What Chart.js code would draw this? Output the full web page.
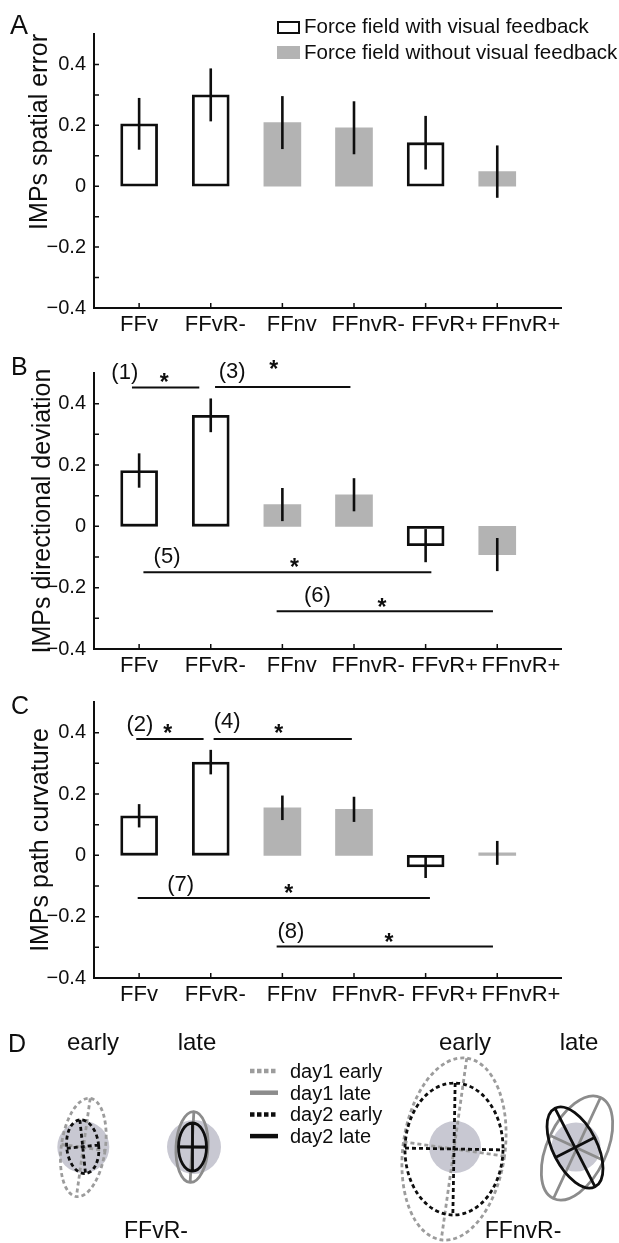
<!DOCTYPE html>
<html>
<head>
<meta charset="utf-8">
<script src="https://cdn.jsdelivr.net/npm/chart.js@4.4.1/dist/chart.umd.min.js"></script>
<style>
  body { margin: 0; background: #fff; font-family: "Liberation Sans", Arial, sans-serif; color: #0e0e0e; }
  #wrap { position: relative; width: 619px; height: 1243px; overflow: hidden; }
  canvas { position: absolute; left: 0; }
  .t { position: absolute; white-space: nowrap; line-height: 1; }
  .c { transform: translateX(-50%); }
  .box { position: absolute; box-sizing: border-box; }
</style>
</head>
<body>
<div id="wrap">
  <canvas id="chartA" width="619" height="345" style="top:0"></canvas>
  <canvas id="chartB" width="619" height="350" style="top:340px"></canvas>
  <canvas id="chartC" width="619" height="345" style="top:680px"></canvas>
  <canvas id="chartD" width="619" height="223" style="top:1020px"></canvas>

  <div class="t" style="left:10px;top:12px;font-size:27px">A</div>
  <div class="t" style="left:11px;top:354px;font-size:25px">B</div>
  <div class="t" style="left:11px;top:693px;font-size:25px">C</div>
  <div class="t" style="left:8px;top:1031px;font-size:25px">D</div>

  <div id="legendA"></div>

  <div class="t c" style="left:93px;top:1030px;font-size:24px">early</div>
  <div class="t c" style="left:197px;top:1030px;font-size:24px">late</div>
  <div class="t c" style="left:465px;top:1030px;font-size:24px">early</div>
  <div class="t c" style="left:579px;top:1030px;font-size:24px">late</div>
  <div class="t c" style="left:156px;top:1219px;font-size:23px">FFvR-</div>
  <div class="t c" style="left:523px;top:1219px;font-size:23px">FFnvR-</div>
</div>
<script>
// ---- data ----
const categories = ['FFv', 'FFvR-', 'FFnv', 'FFnvR-', 'FFvR+', 'FFnvR+'];
const withVisual = [true, true, false, false, true, false];
const legendLabels = ['Force field with visual feedback', 'Force field without visual feedback'];

const spatialError = [0.205, 0.300, 0.209, 0.192, 0.143, 0.048];
const spatialErrorSE = [0.085, 0.087, 0.087, 0.087, 0.088, 0.086];
const directionalDev = [0.182, 0.362, 0.071, 0.103, -0.063, -0.092];
const directionalDevSE = [0.056, 0.055, 0.054, 0.054, 0.054, 0.054];
const pathCurvature = [0.129, 0.304, 0.155, 0.150, -0.038, 0.008];
const pathCurvatureSE = [0.038, 0.040, 0.040, 0.041, 0.036, 0.039];

const yTicks = [-0.4, -0.2, 0, 0.2, 0.4];
const yMinorTicks = [-0.3, -0.1, 0.1, 0.3];

// significance bars: x in category index units, y in data units
const bracketsB = [
  { text: '(1)', from: -0.1, to: 0.84, y: 0.453, textX: -0.2, textY: 0.500, starX: 0.35, starY: 0.489 },
  { text: '(3)', from: 1.06, to: 2.95, y: 0.454, textX: 1.30, textY: 0.502, starX: 1.88, starY: 0.532 },
  { text: '(5)', from: 0.06, to: 4.08, y: -0.150, textX: 0.39, textY: -0.101, starX: 2.17, starY: -0.116 },
  { text: '(6)', from: 1.92, to: 4.94, y: -0.277, textX: 2.49, textY: -0.228, starX: 3.39, starY: -0.244 }
];
const bracketsC = [
  { text: '(2)', from: -0.04, to: 0.90, y: 0.379, textX: 0.01, textY: 0.426, starX: 0.40, starY: 0.417 },
  { text: '(4)', from: 1.04, to: 2.97, y: 0.379, textX: 1.23, textY: 0.434, starX: 1.95, starY: 0.417 },
  { text: '(7)', from: -0.02, to: 4.06, y: -0.139, textX: 0.58, textY: -0.098, starX: 2.09, starY: -0.104 },
  { text: '(8)', from: 1.92, to: 4.94, y: -0.297, textX: 2.12, textY: -0.249, starX: 3.49, starY: -0.265 }
];

// panel D ellipses: [centre x, centre y, semi-major, semi-minor, tilt deg]
const dayLabels = ['day1 early', 'day1 late', 'day2 early', 'day2 late'];
const day1Early = [[8.33, -0.05, 4.96, 2.2, 8], [45.4, -0.2, 9.17, 5.1, 8]];
const day1Late = [[19.2, 0, 3.55, 1.6, 3], [57.7, -0.1, 5.57, 2.96, 25]];
const day2Early = [[8.27, 0.03, 2.7, 1.6, -6], [45.4, -0.2, 6.6, 4.9, 1]];
const day2Late = [[19.25, 0, 2.4, 1.4, 0], [57.5, -0.05, 4.4, 2.2, -27]];
const targetDisks = [[8.33, 0, 2.6], [19.4, 0, 2.7], [45.5, 0, 2.6], [57.6, 0, 2.45]];

const family = '"Liberation Sans", Arial, sans-serif';
const ink = '#0e0e0e';
const barGray = '#b3b3b3';
const dayStyles = [
  { color: '#9c9c9c', dash: [4, 3] },
  { color: '#8c8c8c', dash: [] },
  { color: ink, dash: [4, 3] },
  { color: ink, dash: [] }
];

// legend of panel A
document.getElementById('legendA').innerHTML =
  '<div class="box" style="left:277px;top:21px;width:23px;height:13px;border:2px solid ' + ink + '"></div>' +
  '<div class="t" style="left:304px;top:16px;font-size:20.5px">' + legendLabels[0] + '</div>' +
  '<div class="box" style="left:277px;top:46px;width:23px;height:13px;background:' + barGray + '"></div>' +
  '<div class="t" style="left:304px;top:42px;font-size:20.5px">' + legendLabels[1] + '</div>';

const inwardTicks = {
  id: 'inwardTicks',
  afterDraw(chart) {
    const { ctx, chartArea, scales: { x, y } } = chart;
    ctx.save();
    ctx.strokeStyle = ink;
    ctx.lineWidth = 1.5;
    ctx.beginPath();
    yTicks.concat(yMinorTicks).forEach(v => {
      const py = y.getPixelForValue(v);
      ctx.moveTo(chartArea.left, py);
      ctx.lineTo(chartArea.left + 5, py);
    });
    categories.forEach((c, i) => {
      const px = x.getPixelForValue(i);
      ctx.moveTo(px, chartArea.bottom);
      ctx.lineTo(px, chartArea.bottom - 5);
    });
    ctx.stroke();
    ctx.restore();
  }
};

const errorBars = {
  id: 'errorBars',
  afterDatasetsDraw(chart) {
    const { ctx, scales: { y } } = chart;
    ctx.save();
    ctx.strokeStyle = ink;
    ctx.lineWidth = 2.6;
    chart.data.datasets.forEach((ds, di) => {
      chart.getDatasetMeta(di).data.forEach((bar, j) => {
        const p = ds.data[j];
        ctx.beginPath();
        ctx.moveTo(bar.x, y.getPixelForValue(p.y + p.err));
        ctx.lineTo(bar.x, y.getPixelForValue(p.y - p.err));
        ctx.stroke();
      });
    });
    ctx.restore();
  }
};

function bracketPlugin(list) {
  return {
    id: 'brackets',
    afterDraw(chart) {
      const { ctx, scales: { x, y } } = chart;
      ctx.save();
      ctx.strokeStyle = ink;
      ctx.fillStyle = ink;
      ctx.lineWidth = 2;
      ctx.textAlign = 'center';
      list.forEach(b => {
        const py = y.getPixelForValue(b.y);
        ctx.beginPath();
        ctx.moveTo(x.getPixelForValue(b.from), py);
        ctx.lineTo(x.getPixelForValue(b.to), py);
        ctx.stroke();
        ctx.font = '22px ' + family;
        ctx.textBaseline = 'middle';
        ctx.fillText(b.text, x.getPixelForValue(b.textX), y.getPixelForValue(b.textY));
        ctx.font = 'bold 23px ' + family;
        ctx.textBaseline = 'alphabetic';
        ctx.fillText('*', x.getPixelForValue(b.starX), y.getPixelForValue(b.starY) + 0.58 * 23);
      });
      ctx.restore();
    }
  };
}

function barPanel(id, values, errors, axisTitle, brackets, layout) {
  const idx = categories.map((c, i) => i);
  const point = i => ({ x: i, y: values[i], err: errors[i] });
  new Chart(document.getElementById(id), {
    type: 'bar',
    data: {
      datasets: [
        {
          label: legendLabels[0],
          data: idx.filter(i => withVisual[i]).map(point),
          backgroundColor: '#fff',
          borderColor: ink,
          borderWidth: 2.8,
          borderSkipped: false
        },
        {
          label: legendLabels[1],
          data: idx.filter(i => !withVisual[i]).map(point),
          backgroundColor: barGray,
          borderWidth: 0
        }
      ]
    },
    options: {
      responsive: false,
      animation: false,
      layout: { padding: { top: layout.top, right: 58, left: 0, bottom: 0 } },
      datasets: { bar: { barThickness: 37, grouped: false } },
      plugins: { legend: { display: false }, tooltip: { enabled: false } },
      scales: {
        x: { type: 'linear', display: false, min: -0.63, max: 5.89, offset: false },
        xNames: {
          type: 'linear',
          position: 'bottom',
          min: -0.589,
          max: 5.524,
          offset: false,
          grid: { display: false, drawTicks: false },
          border: { color: ink, width: 2 },
          afterBuildTicks: s => { s.ticks = idx.map(i => ({ value: i })); },
          afterFit: s => { s.height = layout.bottom; },
          ticks: {
            autoSkip: false,
            maxRotation: 0,
            padding: 4,
            color: ink,
            font: { family: family, size: 22 },
            callback: v => categories[v]
          }
        },
        y: {
          min: -0.4,
          max: 0.5,
          grid: { display: false, drawTicks: false },
          border: { color: ink, width: 2 },
          afterBuildTicks: s => { s.ticks = yTicks.map(v => ({ value: v })); },
          afterFit: s => { s.width = 94; },
          ticks: {
            padding: 8,
            color: ink,
            font: { family: family, size: 20 },
            callback: v => v === 0 ? '0' : (v < 0 ? '\u2212' : '') + Math.abs(v).toFixed(1)
          },
          title: {
            display: true,
            text: axisTitle,
            align: layout.titleAlign,
            color: ink,
            font: { family: family, size: 25, lineHeight: 1.2 },
            padding: { top: layout.titleX - 15, bottom: 0 }
          }
        }
      }
    },
    plugins: [inwardTicks, errorBars, bracketPlugin(brackets)]
  });
}

barPanel('chartA', spatialError, spatialErrorSE, 'IMPs spatial error', [],
  { top: 34, bottom: 37, titleX: 40, titleAlign: 'end' });
barPanel('chartB', directionalDev, directionalDevSE, 'IMPs directional deviation', bracketsB,
  { top: 33, bottom: 41, titleX: 43, titleAlign: 'center' });
barPanel('chartC', pathCurvature, pathCurvatureSE, 'IMPs path curvature', bracketsC,
  { top: 22, bottom: 47, titleX: 41, titleAlign: 'center' });

// ---- panel D: covariance ellipses ----
const toPoints = rows => rows.map(([x, y, a, b, tilt]) => ({ x, y, a, b, tilt }));

const ellipsePlugin = {
  id: 'ellipses',
  afterDatasetsDraw(chart) {
    const { ctx, scales: { x } } = chart;
    const k = x.getPixelForValue(1) - x.getPixelForValue(0);
    ctx.save();
    chart.data.datasets.forEach((ds, di) => {
      const meta = chart.getDatasetMeta(di);
      meta.data.forEach((el, j) => {
        const p = ds.data[j];
        if (ds.disk) {
          ctx.fillStyle = '#c8c8d2';
          ctx.beginPath();
          ctx.arc(el.x, el.y, p.r * k, 0, Math.PI * 2);
          ctx.fill();
          return;
        }
        const st = dayStyles[ds.day];
        ctx.save();
        ctx.translate(el.x, el.y);
        ctx.rotate(p.tilt * Math.PI / 180);
        ctx.strokeStyle = st.color;
        ctx.lineWidth = 2.8;
        ctx.setLineDash(st.dash);
        ctx.beginPath();
        ctx.ellipse(0, 0, p.b * k, p.a * k, 0, 0, Math.PI * 2);
        ctx.moveTo(0, -p.a * k);
        ctx.lineTo(0, p.a * k);
        ctx.moveTo(-p.b * k, 0);
        ctx.lineTo(p.b * k, 0);
        ctx.stroke();
        ctx.restore();
      });
    });
    // legend
    ctx.font = '20px ' + family;
    ctx.fillStyle = ink;
    ctx.textBaseline = 'alphabetic';
    dayLabels.forEach((lab, i) => {
      const base = 58 + i * 21.7;
      const st = dayStyles[i];
      ctx.strokeStyle = st.color;
      ctx.lineWidth = 4.5;
      ctx.setLineDash(st.dash.length ? [4.5, 2.5] : []);
      ctx.beginPath();
      ctx.moveTo(250, base - 7);
      ctx.lineTo(278, base - 7);
      ctx.stroke();
      ctx.fillText(lab, 290, base);
    });
    ctx.restore();
  }
};

new Chart(document.getElementById('chartD'), {
  type: 'scatter',
  data: {
    datasets: [
      { label: 'target', disk: true, data: targetDisks.map(([x, y, r]) => ({ x, y, r })), pointRadius: 0 },
      { label: dayLabels[0], day: 0, data: toPoints(day1Early), pointRadius: 0 },
      { label: dayLabels[1], day: 1, data: toPoints(day1Late), pointRadius: 0 },
      { label: dayLabels[2], day: 2, data: toPoints(day2Early), pointRadius: 0 },
      { label: dayLabels[3], day: 3, data: toPoints(day2Late), pointRadius: 0 }
    ]
  },
  options: {
    responsive: false,
    animation: false,
    layout: { padding: 0 },
    plugins: { legend: { display: false }, tooltip: { enabled: false } },
    scales: {
      x: { type: 'linear', display: false, min: 0, max: 61.9 },
      y: { type: 'linear', display: false, min: -9.6, max: 12.7 }
    }
  },
  plugins: [ellipsePlugin]
});
</script>
</body>
</html>
